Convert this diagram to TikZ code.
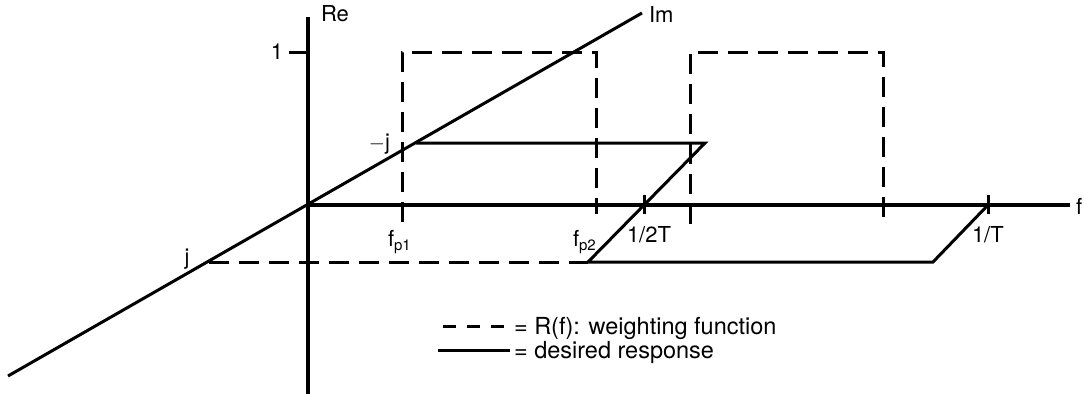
\documentclass[tikz,border=0pt]{standalone}
\usepackage{fontspec}
\setmainfont{TeX Gyre Heros}
\usepackage{xcolor}
\usepackage{tikz}
\usetikzlibrary{positioning}
\definecolor{rfInk}{HTML}{000000}
\newcommand{\rfsub}[1]{\raisebox{-0.4ex}{\fontsize{15}{15}\selectfont #1}}
\tikzset{
  rf diagram/.style={font=\fontsize{22}{24}\selectfont, text=rfInk,
    line cap=butt, line join=miter},
  rf axis/.style={draw=rfInk, line width=3.4pt},
  rf faxis/.style={rf axis, line width=4.4pt},
  rf resp/.style={draw=rfInk, line width=3pt},
  rf weight/.style={draw=rfInk, line width=3pt, dash pattern=on 20pt off 10pt},
  rf key dash/.style={rf weight, dash pattern=on 13pt off 11pt},
  rf label/.style={inner sep=0pt, outer sep=0pt},
  rf key/.style={rf label, font=\fontsize{23.5}{25}\selectfont}
}

\begin{document}
\begin{tikzpicture}[rf diagram,x=1pt,y=-1pt]
\useasboundingbox (0,0) rectangle (1084,394);
% axes
\coordinate (O) at (308,205);
\coordinate (reTop) at (308,17);
\coordinate (reBot) at (308,394);
\coordinate (fEnd) at (1070,205);
\coordinate (imLow) at (8,376);
\coordinate (imTop) at (642,13);
\draw[rf axis] (reBot) -- (reTop);
\draw[rf faxis] (O) -- (fEnd);
\draw[rf resp] (imLow) -- (imTop);
\node[rf label,anchor=west] (re) at (321,14) {Re};
\node[rf label,anchor=west] (im) at (649,14) {Im};
\node[rf label,anchor=west] (f) at (1076,206) {f};
% unit tick on Re
\coordinate (oneTick) at (289,52);
\coordinate (oneAxis) at (308,52);
\draw[rf axis,line width=3pt] (oneTick) -- (oneAxis);
\node[rf label,anchor=east] (one) at (283,52) {1};
% points on Im
\coordinate (mj) at (416,143);
\coordinate (pj) at (209,262);
\node[rf label,anchor=east] (mjl) at (390,144) {$-$j};
\node[rf label] (pjl) at (187,259) {j};
% desired response
\coordinate (r1) at (705,143);
\coordinate (r2) at (588,262);
\coordinate (r3) at (933,262);
\coordinate (r4) at (988,205);
\draw[rf resp] (mj) -- (r1) -- (r2) -- (r3) -- (r4);
% weighting function
\draw[rf weight] (pj) -- (r2);
\draw[rf weight] (402,222) -- (402,52) -- (596,52) -- (596,214);
\draw[rf weight] (690,224) -- (690,52) -- (883,52) -- (883,224);
% ticks on f
\draw[rf resp] (644,195) -- (644,214);
\draw[rf resp] (988,195) -- (988,214);
\node[rf label,anchor=base west] (fp1) at (388,246) {f\rfsub{p1}};
\node[rf label,anchor=base west] (fp2) at (573,246) {f\rfsub{p2}};
\node[rf label,anchor=base west] (half) at (627,242) {1/2T};
\node[rf label,anchor=base west] (full) at (972,242) {1/T};
% key
\node[rf key,anchor=base west] (keyW) at (514,334) {= R(f): weighting function};
\node[rf key,anchor=base west] (keyD) at (514,358) {= desired response};
\coordinate (keyWs) at (443,326);
\coordinate (keyDs) at (438,350);
\draw[rf key dash] (keyWs) -- (keyWs -| keyW.west);
\draw[rf resp] (keyDs) -- ([xshift=-4pt]keyDs -| keyD.west);
\end{tikzpicture}
\end{document}
